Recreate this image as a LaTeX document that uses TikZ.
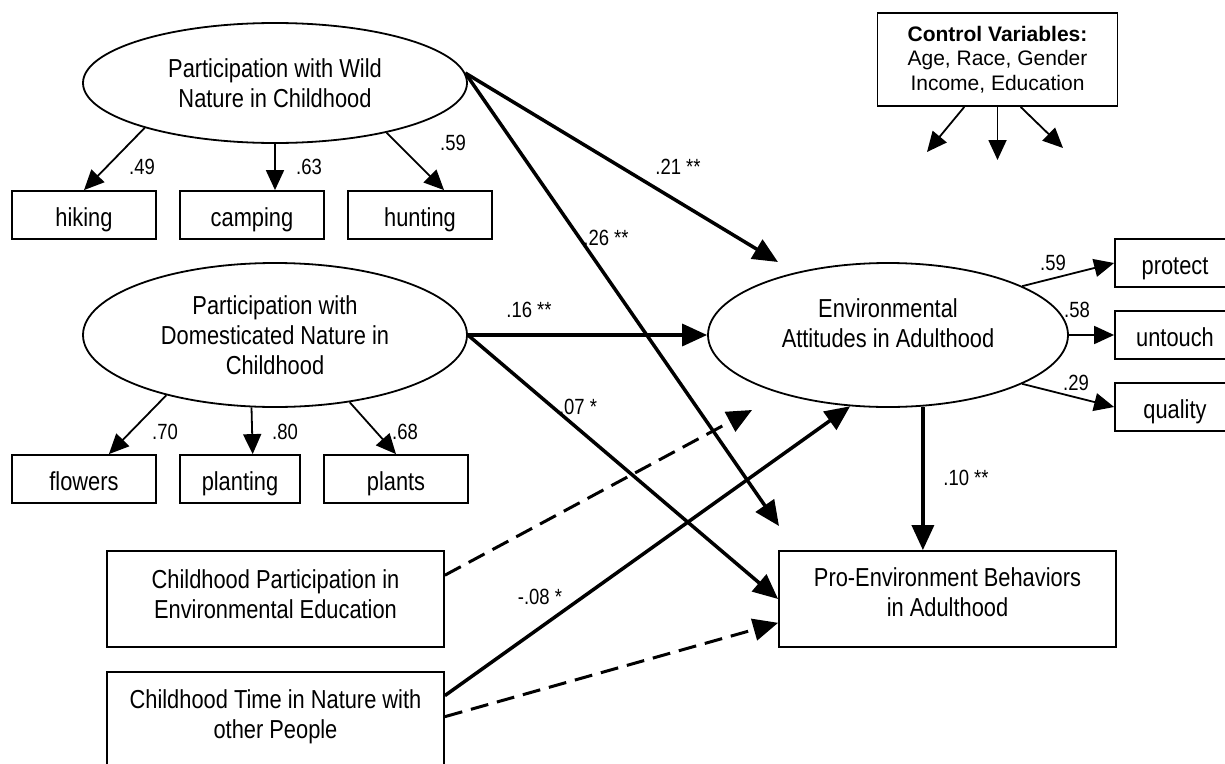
\documentclass[tikz,border=0pt]{standalone}
\usepackage{fontspec}
\setmainfont{Liberation Sans}[FakeStretch=0.84]
\newfontfamily\ctrlfont{Liberation Sans}
\usetikzlibrary{arrows.meta, positioning, shapes.geometric}

\begin{document}
\begin{tikzpicture}[x=1pt,y=-1pt,>={Triangle[length=25pt,width=22pt]},node distance=168pt,on grid,
latent/.style={ellipse,draw,line width=1.8pt,inner sep=0pt,align=center,font=\fontsize{26}{30}\selectfont},
ind/.style={rectangle,draw,line width=1.8pt,inner sep=0pt,minimum width=144pt,minimum height=48pt,
  text height=24pt,text depth=2pt,font=\fontsize{26}{30}\selectfont},
obs/.style={rectangle,draw,line width=1.8pt,inner sep=0pt,minimum width=337pt,align=center,font=\fontsize{26}{30}\selectfont},
lab/.style={inner sep=0pt,font=\fontsize{22}{24}\selectfont}]

\useasboundingbox (0,0) rectangle (1225,763);

    \node[latent,minimum width=384pt,minimum height=120pt] (wild) at (275,83) {Participation with Wild\\Nature in Childhood};
    \node[latent,minimum width=384pt,minimum height=144pt] (dom) at (275,335) {Participation with\\Domesticated Nature in\\Childhood};
    \node[latent,minimum width=360pt,minimum height=144pt] (ea) at (888,335) {Environmental\\Attitudes in Adulthood\\[-15pt]\strut};

    \node[ind] (hiking) at (84,215) {hiking};
    \node[ind] (camping) [right=of hiking] {camping};
    \node[ind] (hunting) [right=of camping] {hunting};

    \node[ind] (flowers) at (84,479) {flowers};
    \node[ind,minimum width=120pt] (planting) [right=156pt of flowers] {planting};
    \node[ind] (plants) [right=156pt of planting] {plants};

    \node[ind,minimum width=120pt] (protect) at (1175,263) {protect};
    \node[ind,minimum width=120pt] (untouch) [below=72pt of protect] {untouch};
    \node[ind,minimum width=120pt] (quality) [below=72pt of untouch] {quality};

    \node[obs,minimum height=96pt] (peb) at (947.5,599) {Pro-Environment Behaviors\\in Adulthood\\[-26pt]\strut};
    \node[obs,minimum height=96pt] (ee) at (275.5,599) {Childhood Participation in\\Environmental Education\\[-30pt]\strut};
    \node[obs,minimum height=113pt] (tn) at (275.5,728.5) {Childhood Time in Nature with\\other People\\[-10pt]\strut};

    \node[draw,line width=1.8pt,minimum width=240pt,minimum height=93pt,inner sep=0pt,align=center,
      font=\ctrlfont\fontsize{21}{24.5}\selectfont] (ctrl) at (997.5,59.5)
      {\textbf{Control Variables:}\\Age, Race, Gender\\Income, Education};

    % free arrow ends
    \coordinate (t21) at (778,262);
    \coordinate (t26) at (779,526);
    \coordinate (tee) at (752,410);
    \coordinate (cv1) at (927,152);
    \coordinate (cv2) at (997.5,160);
    \coordinate (cv3) at (1063,148);

    \tikzset{loading/.style={-{Triangle[length=20pt,width=18pt]},line width=1.8pt}}
    \tikzset{effect/.style={->,line width=3.5pt}}
    \tikzset{nseffect/.style={->,line width=3pt,dash pattern=on 18pt off 9pt}}

    \path (wild.199) edge [loading] (hiking.north);
    \path (wild.south) edge [loading] (wild.south |- camping.north);
    \path (wild.336) edge [loading] (hunting.46);
    \path (dom.209) edge [loading] (flowers.45);
    \path (dom.252) edge [loading] (planting.63);
    \path (dom.318) edge [loading] (plants.north);
    \path (ea.20) edge [loading] (protect.west);
    \path (ea.east) edge [loading] (untouch.west);
    \path (ea.340) edge [loading] (quality.west);
    \path (ctrl.235) edge [loading] (cv1);
    \path (ctrl.south) edge [loading] (cv2);
    \path (ctrl.296) edge [loading] (cv3);

    \path (wild.3) edge [effect] (t21);
    \path (wild.3) edge [effect] (t26);
    \path (dom.east) edge [effect] (ea.west);
    \path (dom.east) edge [effect] (peb.west);
    \path (ea.296) edge [effect] (ea.296 |- peb.north);
    \path (tn.11) edge [effect] (ea.242);
    \path (ee.8) edge [nseffect] (tee);
    \path (tn.4) edge [nseffect] (peb.188);

    \node[lab] (l49) at (142,167) {.49};
    \node[lab] (l63) at (309,167) {.63};
    \node[lab] (l59w) at (453,143) {.59};
    \node[lab] (l70) at (165,432) {.70};
    \node[lab] (l80) at (285,432) {.80};
    \node[lab] (l68) at (405,432) {.68};
    \node[lab] (l21) at (678,167) {.21 **};
    \node[lab] (l26) at (606,238) {.26 **};
    \node[lab] (l16) at (529,310) {.16 **};
    \node[lab] (l07) at (578,407) {.07 *};
    \node[lab] (l59) at (1053,263) {.59};
    \node[lab] (l58) at (1077,310) {.58};
    \node[lab] (l29) at (1076,383) {.29};
    \node[lab] (l10) at (966,478) {.10 **};
    \node[lab] (l08) at (540,597) {-.08 *};

\end{tikzpicture}
\end{document}
